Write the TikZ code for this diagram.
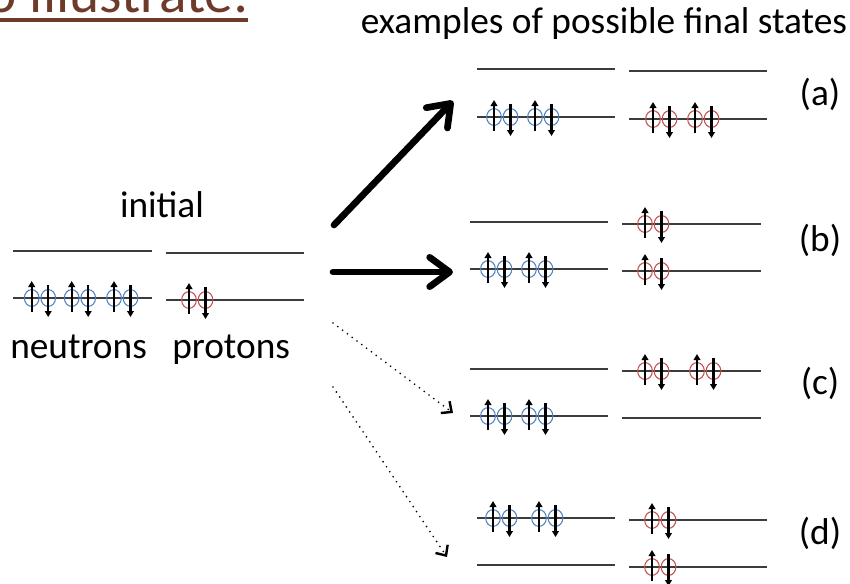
\documentclass[tikz,border=0pt]{standalone}
\usepackage{fontspec}
\setmainfont{Carlito}
\usetikzlibrary{arrows.meta}

\definecolor{titlebrown}{RGB}{110,58,42}
\definecolor{nblue}{RGB}{79,129,189}
\definecolor{pred}{RGB}{192,80,77}
\definecolor{levelgray}{RGB}{60,60,60}

\tikzset{
  level/.style={draw=levelgray, line width=1.1pt},
  orb/.style={draw=#1, line width=0.8pt},
  spin/.style={line width=1.6pt, -{Triangle[length=4.5pt,width=5pt]}},
  bigarrow/.style={line width=5pt, line cap=round,
    -{Straight Barb[length=15pt,width=22pt,round]}},
  dotarrow/.style={line width=1.4pt, line cap=round, dash pattern=on 0pt off 4.5pt,
    -{Straight Barb[length=6pt,width=11pt,line width=1.8pt]}},
  lbl/.style={font=\fontsize{28}{33}\selectfont, inner sep=0pt},
  titletext/.style={font=\fontsize{43}{50}\selectfont, text=titlebrown, inner sep=0pt},
}

% a filled orbital: two circles with spin up / spin down arrows
\newcommand\drawpair[3]{%
  \draw[orb=#1] (#2,#3) ellipse [x radius=5.5pt, y radius=6.3pt];
  \draw[orb=#1] ({#2+16.5},#3) ellipse [x radius=5.5pt, y radius=6.3pt];
  \draw[spin] (#2,{#3+14}) -- (#2,{#3-17});
  \draw[spin] ({#2+16.5},{#3-13}) -- ({#2+16.5},{#3+19});
}
\newcommand\npair[2]{\drawpair{nblue}{#1}{#2}}
\newcommand\ppair[2]{\drawpair{pred}{#1}{#2}}
\newcommand\lvl[3]{\draw[level] (#1,#3) -- (#2,#3);}

\begin{document}
\begin{tikzpicture}[x=0.75pt, y=-0.75pt]
  \useasboundingbox (0,0) rectangle (850,583);
  \clip (0,0) rectangle (850,583);

  % heading
  \node[titletext, anchor=base east] (title) at (249,12) {to illustrate:};
  \draw[titlebrown, line width=2.8pt]
    ([yshift=-6pt]title.base west) -- ([yshift=-6pt, xshift=-1pt]title.base east);

  \node[lbl, anchor=base] (finals) at (604,33) {examples of possible final states};

  % initial configuration
  \node[lbl, anchor=base] (initial) at (162,217) {initial};
  \lvl{13}{152}{251}
  \lvl{13}{152}{298}
  \lvl{166}{304}{253}
  \lvl{166}{304}{300}
  \npair{31.7}{298}
  \npair{71.7}{298}
  \npair{114}{298}
  \ppair{189}{300}
  \node[lbl, anchor=base west] (neutrons) at (10,358) {neutrons};
  \node[lbl, anchor=base west] (protons) at (172,358) {protons};

  % final state (a)
  \lvl{477}{615}{69}
  \lvl{477}{615}{117}
  \lvl{629}{767}{71}
  \lvl{629}{767}{119}
  \npair{494}{117}
  \npair{535}{117}
  \ppair{653}{119}
  \ppair{695}{119}
  \node[lbl] (la) at (820,94) {(a)};

  % final state (b)
  \lvl{470}{608}{222}
  \lvl{470}{608}{269}
  \lvl{622}{761}{224}
  \lvl{622}{761}{271}
  \npair{488}{269}
  \npair{529}{269}
  \ppair{645}{224}
  \ppair{645}{271}
  \node[lbl] (lb) at (820,240) {(b)};

  % final state (c)
  \lvl{470}{608}{369}
  \lvl{470}{608}{416}
  \lvl{622}{761}{371}
  \lvl{622}{761}{418}
  \npair{488}{416}
  \npair{529}{416}
  \ppair{645}{371}
  \ppair{697}{371}
  \node[lbl] (lc) at (820,383) {(c)};

  % final state (d)
  \lvl{477}{615}{518}
  \lvl{477}{615}{565}
  \lvl{629}{767}{520}
  \lvl{629}{767}{567}
  \npair{493}{518}
  \npair{539}{518}
  \ppair{652}{520}
  \ppair{652}{567}
  \node[lbl] (ld) at (820,533) {(d)};

  % transitions
  \coordinate (sa) at (334,225);
  \coordinate (ea) at (453,101);
  \coordinate (sb) at (333,272);
  \coordinate (eb) at (453,272);
  \coordinate (sc) at (333,323);
  \coordinate (ec) at (453,413);
  \coordinate (sd) at (333,387);
  \coordinate (ed) at (447,557);
  \draw[bigarrow] (sa) -- (ea);
  \draw[bigarrow] (sb) -- (eb);
  \draw[dotarrow] (sc) -- (ec);
  \draw[dotarrow] (sd) -- (ed);
\end{tikzpicture}
\end{document}
